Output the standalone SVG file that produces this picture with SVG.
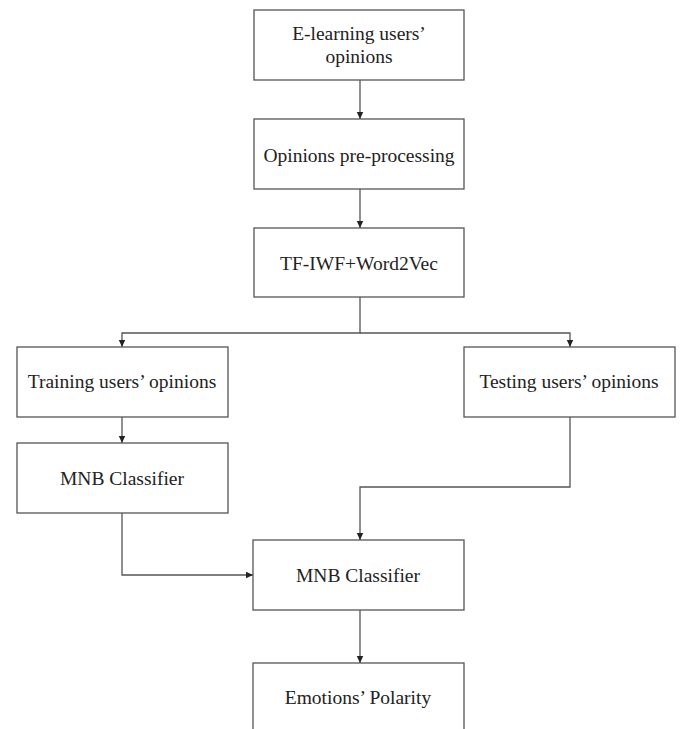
<svg xmlns="http://www.w3.org/2000/svg" width="680" height="729" viewBox="0 0 680 729">
<style>
.box{fill:#fff;stroke:#555;stroke-width:1.3}
.lbl{font-family:"Liberation Serif","Times New Roman",serif;font-size:19.5px;fill:#222;text-anchor:middle}
.ln{fill:none;stroke:#555;stroke-width:1.3}
</style>
<defs>
<marker id="ah" markerWidth="8" markerHeight="8" refX="7" refY="4" orient="auto" markerUnits="userSpaceOnUse">
<path d="M0,0.8 L7,4 L0,7.2 Z" fill="#222"/>
</marker>
</defs>
<rect width="680" height="729" fill="#fff"/>
<g id="connectors">
<path class="ln" d="M360,80 V119" marker-end="url(#ah)"/>
<path class="ln" d="M360,189 V228" marker-end="url(#ah)"/>
<path class="ln" d="M360,297 V333 H122 V347" marker-end="url(#ah)"/>
<path class="ln" d="M360,333 H570 V347" marker-end="url(#ah)"/>
<path class="ln" d="M122,417 V443" marker-end="url(#ah)"/>
<path class="ln" d="M570,417 V487 H360 V540" marker-end="url(#ah)"/>
<path class="ln" d="M122,513 V575 H253" marker-end="url(#ah)"/>
<path class="ln" d="M360,610 V663" marker-end="url(#ah)"/>
</g>
<g id="n1"><rect class="box" x="254" y="10" width="210" height="70"/><text class="lbl" x="359" y="40">E-learning users’</text><text class="lbl" x="359" y="63">opinions</text></g>
<g id="n2"><rect class="box" x="254" y="119" width="210" height="70"/><text class="lbl" x="359" y="162">Opinions pre-processing</text></g>
<g id="n3"><rect class="box" x="254" y="228" width="210" height="69"/><text class="lbl" x="359" y="270">TF-IWF+Word2Vec</text></g>
<g id="n4"><rect class="box" x="17" y="347" width="211" height="70"/><text class="lbl" x="122" y="388">Training users’ opinions</text></g>
<g id="n5"><rect class="box" x="464" y="347" width="211" height="70"/><text class="lbl" x="569" y="388">Testing users’ opinions</text></g>
<g id="n6"><rect class="box" x="17" y="443" width="211" height="70"/><text class="lbl" x="122" y="485">MNB Classifier</text></g>
<g id="n7"><rect class="box" x="253" y="540" width="211" height="70"/><text class="lbl" x="358" y="582">MNB Classifier</text></g>
<g id="n8"><rect class="box" x="253" y="663" width="211" height="80"/><text class="lbl" x="358" y="704">Emotions’ Polarity</text></g>
</svg>
